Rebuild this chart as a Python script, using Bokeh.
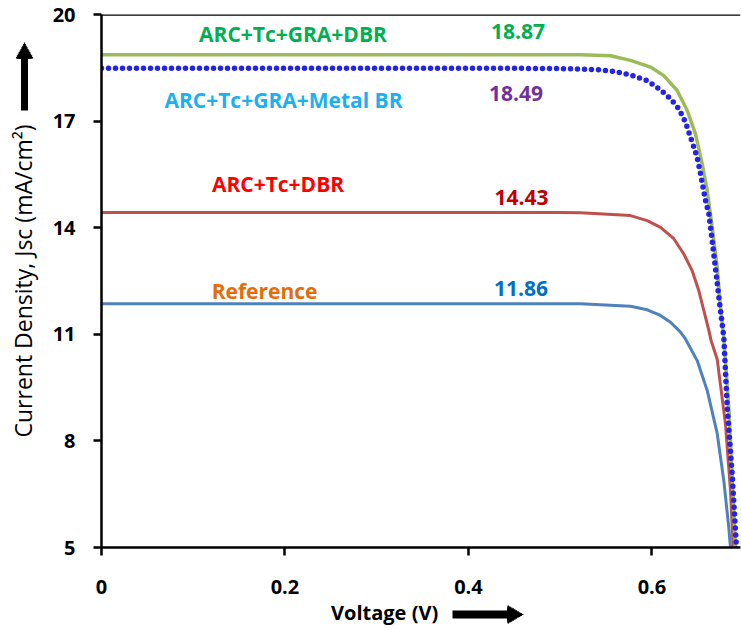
import math
from bokeh.plotting import figure
from bokeh.models import Range1d, FixedTicker, Span, Arrow, NormalHead
from bokeh.core.properties import value
from bokeh.embed import file_html
from bokeh.resources import INLINE

# ---------------- data ----------------
x_ticks = [0, 0.2, 0.4, 0.6]
x_tick_labels = ["0", "0.2", "0.4", "0.6"]
y_ticks = [5, 8, 11, 14, 17, 20]
y_tick_labels = ["5", "8", "11", "14", "17", "20"]

v_ref = [0.0, 0.1, 0.2, 0.3, 0.4, 0.5, 0.5221, 0.5766, 0.5948, 0.6093, 0.6202, 0.6311, 0.6365,
         0.6493, 0.6602, 0.6711, 0.6783, 0.6837, 0.6856, 0.6866]
j_ref = [11.86, 11.86, 11.86, 11.86, 11.86, 11.86, 11.86, 11.79, 11.69, 11.53, 11.34, 11.06, 10.87,
         10.26, 9.42, 8.21, 6.88, 5.57, 5.0, 4.6]

v_dbr = [0.0, 0.1, 0.2, 0.3, 0.4, 0.5, 0.5221, 0.5766, 0.5948, 0.6093, 0.6238, 0.6347, 0.6438,
         0.6510, 0.6565, 0.6620, 0.6645, 0.6711, 0.6801, 0.6856, 0.6885, 0.6895]
j_dbr = [14.43, 14.43, 14.43, 14.43, 14.43, 14.43, 14.42, 14.34, 14.20, 14.01, 13.69, 13.26, 12.79,
         12.23, 11.67, 11.11, 10.82, 10.30, 8.48, 6.60, 5.0, 4.6]

v_gra_dbr = [0.0, 0.1, 0.2, 0.3, 0.4, 0.5, 0.5221, 0.5548, 0.5766, 0.5984, 0.6129, 0.6275, 0.6384,
             0.6474, 0.6547, 0.6602, 0.6656, 0.6711, 0.6747, 0.6783, 0.6837, 0.6874, 0.691, 0.692]
j_gra_dbr = [18.87, 18.87, 18.87, 18.87, 18.87, 18.87, 18.87, 18.84, 18.71, 18.52, 18.28, 17.86, 17.30,
             16.64, 15.80, 15.05, 14.01, 12.89, 11.76, 10.90, 8.95, 7.07, 5.0, 4.6]

v_gra_metal = [0.0, 0.1, 0.2, 0.3, 0.4, 0.5, 0.5221, 0.5439, 0.5584, 0.5766, 0.5948, 0.6093, 0.6202,
               0.6292, 0.6365, 0.6420, 0.6493, 0.6529, 0.6583, 0.6620, 0.6656, 0.6693, 0.6729,
               0.6765, 0.6783, 0.682, 0.6874, 0.6921, 0.6931]
j_gra_metal = [18.49, 18.49, 18.49, 18.49, 18.49, 18.48, 18.46, 18.44, 18.40, 18.30, 18.14, 17.88, 17.63,
               17.35, 16.97, 16.55, 15.98, 15.52, 14.77, 14.39, 13.64, 12.84, 12.04,
               11.29, 10.92, 8.95, 7.07, 5.0, 4.6]

series_names = ["Reference", "ARC+Tc+DBR", "ARC+Tc+GRA+DBR", "ARC+Tc+GRA+Metal BR"]
jsc_values = ["11.86", "14.43", "18.87", "18.49"]

# ---------------- layout / style ----------------
name_pos = [(0.1777, 12.23), (0.1924, 15.24), (0.2087, 19.465), (0.1984, 17.58)]
val_pos = [(0.4572, 12.30), (0.4578, 14.84), (0.4540, 19.52), (0.4518, 17.78)]
name_colors = ["#E46C0A", "#FF0000", "#00B050", "#1CB0F0"]
val_colors = ["#0070C0", "#C00000", "#00B050", "#7030A0"]

FONT = "Open Sans"
X0, X1, Y0, Y1 = 0.0, 0.6965, 5.0, 20.0
FL, FR, FT, FB = 101, 740, 14, 547   # frame edges in canvas pixels


def px_x(px):
    return X0 + (px - FL) * (X1 - X0) / (FR - FL)


def px_y(py):
    return Y1 - (py - FT) * (Y1 - Y0) / (FB - FT)


p = figure(width=741, height=628,
           x_range=Range1d(X0, X1), y_range=Range1d(Y0, Y1),
           output_backend="svg", toolbar_location=None,
           min_border_left=FL, min_border_right=741 - FR,
           min_border_top=FT, min_border_bottom=628 - FB)
p.xgrid.visible = False
p.ygrid.visible = False
p.outline_line_color = None
p.background_fill_color = "white"
p.border_fill_color = "white"

p.xaxis.ticker = FixedTicker(ticks=x_ticks)
p.yaxis.ticker = FixedTicker(ticks=y_ticks)
p.xaxis.major_label_overrides = {t: l for t, l in zip(x_ticks, x_tick_labels)}
p.yaxis.major_label_overrides = {t: l for t, l in zip(y_ticks, y_tick_labels)}
for ax in (p.xaxis, p.yaxis):
    ax.axis_line_color = "black"
    ax.axis_line_width = 2.5
    ax.major_tick_line_color = "black"
    ax.major_tick_line_width = 2.5
    ax.major_tick_out = 8
    ax.major_tick_in = 0
    ax.minor_tick_line_color = None
    ax.major_label_text_font = FONT
    ax.major_label_text_font_style = "bold"
    ax.major_label_text_font_size = "20px"
    ax.major_label_text_color = "black"
    ax.axis_label_text_font = FONT
    ax.axis_label_text_color = "black"
p.xaxis.major_label_standoff = 24
p.yaxis.major_label_standoff = 18

p.xaxis.axis_label = "Voltage (V)" + "\u00a0" * 14
p.xaxis.axis_label_text_font_style = "bold"
p.xaxis.axis_label_text_font_size = "20px"
p.xaxis.axis_label_standoff = 2
p.yaxis.axis_label = "Current Density, Jsc (mA/cm\u00b2)"
p.yaxis.axis_label_text_font_style = "normal"
p.yaxis.axis_label_text_font_size = "23px"
p.yaxis.axis_label_standoff = 11

# top border line
p.add_layout(Span(location=20, dimension="width", line_color="black", line_width=2.5))

# curves
p.line(v_ref, j_ref, line_color="#4F81BD", line_width=3, line_join="round")
p.line(v_dbr, j_dbr, line_color="#C0504D", line_width=3, line_join="round")
p.line(v_gra_dbr, j_gra_dbr, line_color="#9BBB59", line_width=3.5, line_join="round")
p.line(v_gra_metal, j_gra_metal, line_color="#2424E8", line_width=5.5,
       line_dash="0 7", line_cap="round")

# series labels and Jsc values
p.text(x=[q[0] for q in name_pos], y=[q[1] for q in name_pos], text=series_names,
       text_color=name_colors, text_font=value(FONT), text_font_style="bold",
       text_font_size="21px", text_align="center", text_baseline="middle")
p.text(x=[q[0] for q in val_pos], y=[q[1] for q in val_pos], text=jsc_values,
       text_color=val_colors, text_font=value(FONT), text_font_style="bold",
       text_font_size="21px", text_align="center", text_baseline="middle")


# decorative arrows next to the axis titles, built from thick arrow bodies
# (the bodies show up outside the frame inside the arrow-head clip region)
def seg(xa, ya, xb, yb, thick):
    p.add_layout(Arrow(end=NormalHead(size=90, fill_alpha=0.0, line_alpha=0.0),
                       x_start=px_x(xa), y_start=px_y(ya), x_end=px_x(xb), y_end=px_y(yb),
                       line_color="black", line_width=thick, line_cap="butt"))


def right_arrow(x0, x1, yc, shaft, head_len, head_h, steps=10):
    xb = x1 - head_len
    seg(x0, yc, xb + 1, yc, shaft)
    for k in range(1, steps + 1):
        seg(xb, yc, xb + head_len * k / steps, yc, head_h * (1 - (k - 0.5) / steps))


def up_arrow(xc, y0, y1, shaft, head_len, head_h, steps=10):
    yb = y1 + head_len
    seg(xc, y0, xc, yb - 1, shaft)
    for k in range(1, steps + 1):
        seg(xc, yb, xc, yb - head_len * k / steps, head_h * (1 - (k - 0.5) / steps))


right_arrow(452, 523, 614, 8, 16, 19)
up_arrow(24, 110, 42, 7, 16, 18)

open("out.html", "w").write(file_html(p, INLINE))
